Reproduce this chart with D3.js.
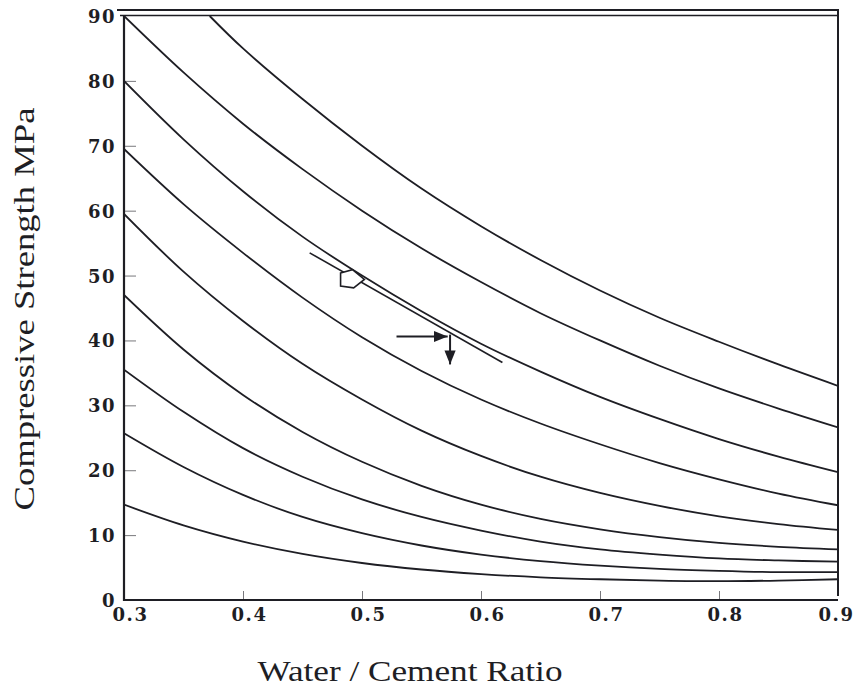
<!DOCTYPE html>
<html>
<head>
<meta charset="utf-8">
<script src="https://cdn.jsdelivr.net/npm/d3@7"></script>
<style>
  body { margin: 0; background: #fff; }
  svg { display: block; }
</style>
</head>
<body>
<svg id="chart" width="859" height="687"></svg>
<script>
// w/c ratio sample points shared by most curves
const wcRatio = [0.30, 0.35, 0.40, 0.45, 0.50, 0.55, 0.60, 0.65, 0.70, 0.75, 0.80, 0.85, 0.90];
// top curve enters from the upper border
const wcTop = [0.372, 0.40, 0.45, 0.50, 0.55, 0.60, 0.65, 0.70, 0.75, 0.80, 0.85, 0.90];
const strengthTop = [90, 85.0, 77.2, 70.0, 63.4, 57.6, 52.4, 47.7, 43.5, 39.8, 36.3, 33.0];
const strength90 = [90, 81.3, 73.4, 66.4, 60.0, 54.2, 49.0, 44.2, 40.0, 36.1, 32.6, 29.5, 26.6];
const strength80 = [80, 71.0, 63.0, 56.0, 50.0, 44.5, 39.5, 35.2, 31.3, 27.9, 24.8, 22.1, 19.7];
const strength70 = [69.5, 61.0, 53.5, 46.6, 40.5, 35.3, 30.9, 27.2, 24.0, 21.1, 18.6, 16.4, 14.6];
const strength60 = [59.5, 50.6, 43.0, 36.4, 30.9, 26.1, 22.2, 19.0, 16.5, 14.5, 12.9, 11.7, 10.8];
const strength47 = [47.0, 38.6, 31.6, 25.9, 21.3, 17.6, 14.7, 12.5, 10.9, 9.7, 8.8, 8.2, 7.8];
const strength36 = [35.5, 29.0, 23.4, 19.0, 15.5, 12.8, 10.7, 9.0, 7.8, 7.0, 6.4, 6.1, 5.9];
const strength26 = [25.7, 20.5, 16.2, 12.8, 10.3, 8.4, 7.0, 6.0, 5.3, 4.8, 4.5, 4.3, 4.3];
const strength15 = [14.7, 11.5, 9.0, 7.1, 5.7, 4.7, 4.0, 3.5, 3.2, 3.0, 2.9, 3.0, 3.2];

// hand-drawn annotation on the chart
const guideLine = [[0.456, 53.5], [0.618, 36.6]];
const markerBox = [[0.482, 50.4], [0.492, 50.9], [0.502, 49.4], [0.493, 48.1], [0.482, 48.4]];
const arrowAcross = [[0.529, 40.6], [0.572, 40.6]];
const arrowDown = [[0.574, 40.9], [0.574, 36.3]];

const xTicks = [0.3, 0.4, 0.5, 0.6, 0.7, 0.8, 0.9];
const yTicks = [0, 10, 20, 30, 40, 50, 60, 70, 80, 90];

const svg = d3.select("#chart");
const x = d3.scaleLinear().domain([0.3, 0.9]).range([124, 838]);
const y = d3.scaleLinear().domain([0, 90]).range([600, 16]);

svg.append("defs").append("clipPath").attr("id", "plot")
  .append("rect").attr("x", 124).attr("y", 10).attr("width", 714).attr("height", 590);

const ink = "#1e1e24";

// curves
const series = [
  { xs: wcTop, ys: strengthTop },
  { xs: wcRatio, ys: strength90 },
  { xs: wcRatio, ys: strength80 },
  { xs: wcRatio, ys: strength70 },
  { xs: wcRatio, ys: strength60 },
  { xs: wcRatio, ys: strength47 },
  { xs: wcRatio, ys: strength36 },
  { xs: wcRatio, ys: strength26 },
  { xs: wcRatio, ys: strength15 }
];
const line = d3.line().x(d => x(d[0])).y(d => y(d[1])).curve(d3.curveCatmullRom.alpha(0.5));
svg.append("g").attr("clip-path", "url(#plot)")
  .selectAll("path").data(series).enter().append("path")
  .attr("d", s => line(s.xs.map((v, i) => [v, s.ys[i]])))
  .attr("fill", "none").attr("stroke", ink).attr("stroke-width", 1.8);

// frame
svg.append("line").attr("x1", 117).attr("x2", 838).attr("y1", 10).attr("y2", 10)
  .attr("stroke", ink).attr("stroke-width", 2.2);
svg.append("line").attr("x1", 120).attr("x2", 838).attr("y1", y(90) - 0.5).attr("y2", y(90) - 0.5)
  .attr("stroke", ink).attr("stroke-width", 1.6);
svg.append("line").attr("x1", 838).attr("x2", 838).attr("y1", 9).attr("y2", 596)
  .attr("stroke", ink).attr("stroke-width", 2);
svg.append("line").attr("x1", 124).attr("x2", 124).attr("y1", y(90)).attr("y2", 601)
  .attr("stroke", ink).attr("stroke-width", 2.2);
svg.append("line").attr("x1", 123).attr("x2", 838).attr("y1", 600).attr("y2", 600)
  .attr("stroke", ink).attr("stroke-width", 2.2);

// axes with inward ticks
const yAxis = svg.append("g").attr("transform", "translate(124,0)")
  .call(d3.axisLeft(y).tickValues(yTicks).tickSizeInner(-12).tickSizeOuter(0).tickPadding(8));
const xAxis = svg.append("g").attr("transform", "translate(0,600)")
  .call(d3.axisBottom(x).tickValues(xTicks).tickSizeInner(-9).tickSizeOuter(0).tickPadding(8)
    .tickFormat(d3.format(".1f")));
[yAxis, xAxis].forEach(a => {
  a.select(".domain").remove();
  a.selectAll(".tick line").attr("stroke", ink).attr("stroke-width", 1).attr("opacity", 0.6);
  a.selectAll("text").attr("fill", ink)
    .style("font-family", "'DejaVu Serif', serif").style("font-weight", "bold").style("font-size", "18px")
    .style("letter-spacing", "1.5px");
});
yAxis.selectAll(".tick").filter(d => d === 0 || d === 90).select("line").remove();
xAxis.selectAll(".tick").filter(d => d === 0.3 || d === 0.9).select("line").remove();
yAxis.selectAll("text").attr("dy", "0.36em");
xAxis.selectAll("text").attr("dx", d => d === 0.9 ? "-2" : "6");

// annotation
const defs = svg.select("defs");
defs.append("marker").attr("id", "head").attr("viewBox", "0 0 10 10").attr("refX", 10).attr("refY", 5)
  .attr("markerWidth", 7).attr("markerHeight", 7).attr("orient", "auto-start-reverse")
  .append("path").attr("d", "M0,1 L10,5 L0,9 Z").attr("fill", ink);
const straight = d3.line().x(d => x(d[0])).y(d => y(d[1]));
svg.append("path").attr("d", straight(guideLine)).attr("fill", "none")
  .attr("stroke", ink).attr("stroke-width", 1.6);
svg.append("path").attr("d", straight(markerBox) + "Z").attr("fill", "#fff")
  .attr("stroke", ink).attr("stroke-width", 1.6);
svg.append("path").attr("d", straight(arrowAcross)).attr("fill", "none")
  .attr("stroke", ink).attr("stroke-width", 2).attr("marker-end", "url(#head)");
svg.append("path").attr("d", straight(arrowDown)).attr("fill", "none")
  .attr("stroke", ink).attr("stroke-width", 2).attr("marker-end", "url(#head)");

// titles
svg.append("text").attr("x", 410).attr("y", 681).attr("text-anchor", "middle")
  .attr("textLength", 305).attr("lengthAdjust", "spacingAndGlyphs")
  .style("font-family", "'Liberation Serif', 'Times New Roman', serif").style("font-size", "30px")
  .attr("fill", ink).text("Water / Cement Ratio");
svg.append("text").attr("transform", "translate(34,309) rotate(-90)").attr("text-anchor", "middle")
  .attr("textLength", 403).attr("lengthAdjust", "spacingAndGlyphs")
  .style("font-family", "'Liberation Serif', 'Times New Roman', serif").style("font-size", "30px")
  .attr("fill", ink).text("Compressive Strength MPa");
</script>
</body>
</html>
